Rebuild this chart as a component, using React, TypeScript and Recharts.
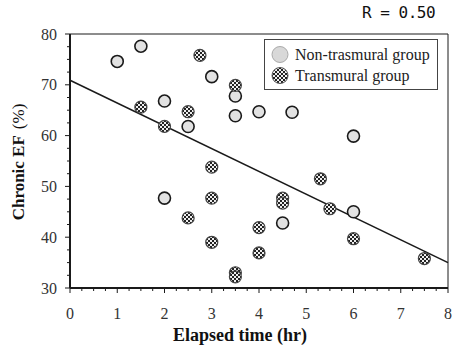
import { ScatterChart, Scatter, XAxis, YAxis, ReferenceLine, Legend, Label } from 'recharts';

// values
const nonTransX = [1, 1.5, 2, 2, 2.5, 3, 3.5, 3.5, 4, 4.7, 4.5, 6, 6];
const nonTransY = [74.6, 77.6, 66.8, 47.7, 61.8, 71.6, 67.8, 63.9, 64.7, 64.6, 42.8, 59.9, 45];
const transX = [1.5, 2, 2.5, 2.75, 3, 3, 2.5, 3, 3.5, 3.5, 3.5, 4, 4, 4.5, 4.5, 5.3, 5.5, 6, 7.5];
const transY = [65.6, 61.8, 64.7, 75.8, 53.8, 47.7, 43.8, 39, 69.9, 33, 32.2, 41.9, 36.9, 47.7, 46.7, 51.5, 45.6, 39.7, 35.8];
const fitX = [0, 8];
const fitY = [70.9, 35];
const seriesNames = ['Non-trasmural group', 'Transmural group'];
const xTicks = Array.from({ length: 33 }, (_, i) => i * 0.25);
const yTicks = Array.from({ length: 21 }, (_, i) => 30 + i * 2.5);

const nonTrans = nonTransX.map((x, i) => ({ x, y: nonTransY[i] }));
const trans = transX.map((x, i) => ({ x, y: transY[i] }));

const SERIF = '"Liberation Serif", "DejaVu Serif", serif';
const INK = '#1a1a1a';

const isMajor = (v: number, step: number) => Math.abs(v / step - Math.round(v / step)) < 1e-6;

function BottomTick({ x, y, payload }: any) {
    const major = isMajor(payload.value, 1);
    return (
        <g>
            <line x1={x} x2={x} y1={y} y2={y + (major ? 5 : 3)} stroke={INK} />
            {major && (
                <text x={x} y={y + 31} textAnchor="middle" fontFamily={SERIF} fontSize={16} fill="#333">
                    {payload.value}
                </text>
            )}
        </g>
    );
}

function TopTick({ x, y, payload }: any) {
    const major = isMajor(payload.value, 1);
    return <line x1={x} x2={x} y1={y} y2={y - (major ? 4 : 2)} stroke={INK} />;
}

function LeftTick({ x, y, payload }: any) {
    const major = isMajor(payload.value, 10);
    return (
        <g>
            <line x1={x} x2={x - (major ? 5 : 3)} y1={y} y2={y} stroke={INK} />
            {major && (
                <text x={x - 13} y={y + 5.5} textAnchor="end" fontFamily={SERIF} fontSize={16} fill="#333">
                    {payload.value}
                </text>
            )}
        </g>
    );
}

function RightTick({ x, y, payload }: any) {
    const major = isMajor(payload.value, 10);
    return <line x1={x} x2={x + (major ? 4 : 2)} y1={y} y2={y} stroke={INK} />;
}

const grayDot = (p: any) => (
    <circle cx={p.cx} cy={p.cy} r={6} fill="#e2e2e2" stroke={INK} strokeWidth={1.6} />
);
const checkDot = (p: any) => (
    <circle cx={p.cx} cy={p.cy} r={6} fill="url(#checker)" stroke="#444" strokeWidth={1.2} />
);

const XTitle = () => (
    <text x={240} y={341} textAnchor="middle" fontFamily={SERIF} fontSize={18} fontWeight="bold" fill="#111">
        Elapsed time (hr)
    </text>
);

const YTitle = () => (
    <text
        x={18}
        y={162}
        transform="rotate(-90, 18, 162)"
        textAnchor="middle"
        dominantBaseline="central"
        fontFamily={SERIF}
        fontSize={17}
        fill="#111"
    >
        <tspan fontWeight="bold">Chronic EF</tspan>
        <tspan dx={6}>(%)</tspan>
    </text>
);

function LegendBox() {
    return (
        <div
            style={{
                border: '1px solid #444',
                background: '#fff',
                width: 174,
                height: 51,
                boxSizing: 'border-box',
                fontFamily: SERIF,
                fontSize: 16,
                color: '#222',
                paddingTop: 4,
            }}
        >
            {seriesNames.map((name, i) => (
                <div key={name} style={{ display: 'flex', alignItems: 'center', height: 21 }}>
                    <svg width={30} height={21}>
                        <circle
                            cx={15}
                            cy={10.5}
                            r={8}
                            fill={i === 0 ? '#d8d8d8' : 'url(#checker)'}
                            stroke={i === 0 ? '#aaa' : '#555'}
                            strokeWidth={1}
                        />
                    </svg>
                    <span style={{ lineHeight: '21px' }}>{name}</span>
                </div>
            ))}
        </div>
    );
}

export default function App() {
    return (
        <div style={{ position: 'absolute', left: 0, top: 0, width: 454, height: 348, background: '#fff' }}>
            <svg width={0} height={0} style={{ position: 'absolute' }}>
                <defs>
                    <pattern id="checker" width={4} height={4} patternUnits="userSpaceOnUse">
                        <rect width={4} height={4} fill="#eee" />
                        <rect width={2} height={2} fill="#222" />
                        <rect x={2} y={2} width={2} height={2} fill="#222" />
                    </pattern>
                </defs>
            </svg>
            <div
                style={{
                    position: 'absolute',
                    left: 362,
                    top: 3,
                    fontFamily: '"DejaVu Sans Mono", monospace',
                    fontSize: 16,
                    letterSpacing: -0.5,
                    color: '#111',
                    whiteSpace: 'pre',
                }}
            >
                R = 0.50
            </div>
            <ScatterChart width={454} height={348} margin={{ top: 30, right: 2, bottom: 20, left: 20 }}>
                <XAxis
                    xAxisId="b"
                    type="number"
                    dataKey="x"
                    domain={[0, 8]}
                    ticks={xTicks}
                    interval={0}
                    height={40}
                    tickLine={false}
                    tickSize={0}
                    tickMargin={0}
                    tick={<BottomTick />}
                    axisLine={{ stroke: INK, strokeWidth: 2 }}
                >
                    <Label content={<XTitle />} />
                </XAxis>
                <XAxis
                    xAxisId="t"
                    orientation="top"
                    type="number"
                    dataKey="x"
                    domain={[0, 8]}
                    ticks={xTicks}
                    interval={0}
                    height={4}
                    tickLine={false}
                    tickSize={0}
                    tickMargin={0}
                    tick={<TopTick />}
                    axisLine={{ stroke: INK, strokeWidth: 1 }}
                />
                <YAxis
                    yAxisId="l"
                    type="number"
                    dataKey="y"
                    domain={[30, 80]}
                    ticks={yTicks}
                    interval={0}
                    width={50}
                    tickLine={false}
                    tickSize={0}
                    tickMargin={0}
                    tick={<LeftTick />}
                    axisLine={{ stroke: INK, strokeWidth: 2 }}
                >
                    <Label content={<YTitle />} />
                </YAxis>
                <YAxis
                    yAxisId="r"
                    orientation="right"
                    type="number"
                    dataKey="y"
                    domain={[30, 80]}
                    ticks={yTicks}
                    interval={0}
                    width={4}
                    tickLine={false}
                    tickSize={0}
                    tickMargin={0}
                    tick={<RightTick />}
                    axisLine={{ stroke: INK, strokeWidth: 1 }}
                />
                <ReferenceLine
                    xAxisId="b"
                    yAxisId="l"
                    segment={[
                        { x: fitX[0], y: fitY[0] },
                        { x: fitX[1], y: fitY[1] },
                    ]}
                    stroke={INK}
                    strokeWidth={1.5}
                    ifOverflow="visible"
                />
                <Scatter
                    name={seriesNames[0]}
                    data={nonTrans}
                    xAxisId="b"
                    yAxisId="l"
                    shape={grayDot}
                    isAnimationActive={false}
                />
                <Scatter
                    name={seriesNames[1]}
                    data={trans}
                    xAxisId="b"
                    yAxisId="l"
                    shape={checkDot}
                    isAnimationActive={false}
                />
                <Legend
                    layout="vertical"
                    align="center"
                    verticalAlign="middle"
                    content={<LegendBox />}
                    wrapperStyle={{ left: 264, top: 39, width: 174, height: 51 }}
                />
            </ScatterChart>
        </div>
    );
}
